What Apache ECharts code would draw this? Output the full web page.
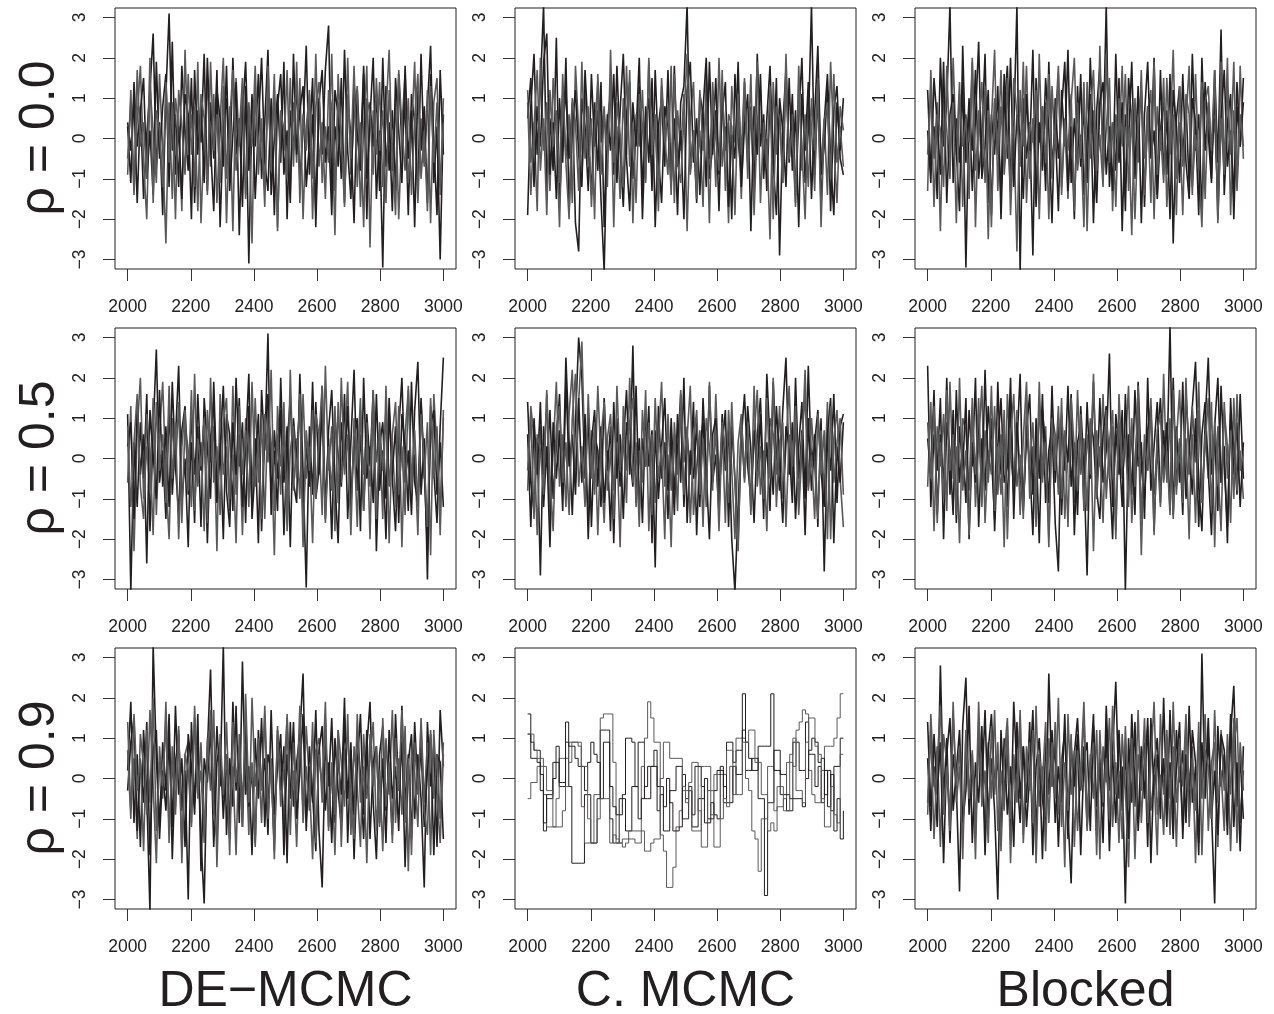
<!DOCTYPE html>
<html><head><meta charset="utf-8">
<script src="https://cdn.jsdelivr.net/npm/echarts@6/dist/echarts.min.js"></script>
<style>html,body{margin:0;padding:0;background:#fff}#c{width:1274px;height:1014px}</style>
</head><body><div id="c"></div><script>
const rowLabels = ['ρ = 0.0', 'ρ = 0.5', 'ρ = 0.9'];
const colLabels = ['DE−MCMC', 'C. MCMC', 'Blocked'];
const xTicks = [2000, 2200, 2400, 2600, 2800, 3000];
const yTicks = [-3, -2, -1, 0, 1, 2, 3];

// rho = 0.0
const DE_r00 = [
[0.3,-1.1,1.4,-0.2,0.8,-1.5,0.1,1.2,2.6,-0.7,0.4,-1.9,1.1,3.1,-0.3,0.6,-1.2,1.8,0.2,-0.8,
1.5,-1.6,0.7,-0.1,2.1,-1.3,0.9,-0.5,1.7,-2.2,0.3,1.0,-0.9,2.0,-0.4,0.5,-1.7,1.3,-3.1,0.8,
-0.2,1.6,-1.0,0.4,2.2,-1.4,0.0,1.1,-0.6,1.9,-2.0,0.7,-0.3,1.4,-1.1,0.2,2.3,-0.9,0.6,-1.8,
1.0,-0.4,1.7,2.8,-1.2,0.3,-0.7,1.5,-1.6,0.9,0.1,-2.1,1.2,-0.5,1.8,-1.0,0.5,2.0,-1.5,0.2,
-3.2,1.3,-0.8,0.7,-1.3,1.6,-0.2,0.9,-1.9,1.1,0.4,-1.4,2.1,-0.6,0.8,2.3,-1.1,0.3,-3.0,0.6],
[-0.9,1.2,-1.4,0.5,1.8,-0.6,-2.0,1.3,0.2,-1.1,1.6,-0.3,-2.6,0.9,-1.5,1.0,0.3,-1.8,2.2,-0.4,
0.6,-1.2,1.9,-2.1,0.1,1.4,-0.7,1.1,-1.6,0.4,2.0,-1.0,0.8,-2.3,1.5,-0.2,1.0,-1.4,0.7,-2.6,
1.3,-0.5,0.2,-1.7,1.8,-0.8,1.2,-2.2,0.6,-0.3,1.7,-1.3,0.9,-0.6,1.5,-2.0,0.3,1.1,-1.0,2.1,
-0.7,0.4,-1.5,1.2,0.8,-2.4,1.6,-0.1,-1.1,2.0,-0.9,0.5,1.3,-1.7,0.2,1.8,-2.7,0.7,-0.4,1.4,
-1.2,0.6,2.2,-0.8,1.0,-2.0,0.3,1.6,-1.1,0.1,1.9,-1.6,0.5,-0.7,1.2,-2.1,0.9,1.5,-1.4,1.0],
[0.4,-0.3,1.0,-1.6,0.7,1.5,-1.0,0.2,-1.4,1.9,-0.5,0.8,1.6,-1.2,2.4,-0.9,0.3,-1.5,1.1,0.6,
-2.0,1.7,-0.4,0.9,-1.1,2.0,-0.2,-1.8,1.2,0.5,-0.7,1.8,-1.3,0.1,1.4,-2.4,0.6,1.9,-0.8,1.1,
-1.5,0.3,2.0,-0.6,-1.3,1.0,-1.9,0.8,1.6,-0.9,0.2,-1.6,2.1,-0.4,0.7,1.3,-1.2,-0.1,1.5,-2.2,
0.9,1.7,-0.6,0.3,-1.9,1.2,0.6,-1.0,2.2,-0.3,-1.5,1.4,0.1,-0.8,1.6,-2.0,0.9,-0.2,1.1,-1.3,
2.0,-0.7,0.4,-1.8,1.5,0.2,-1.1,1.8,-0.5,0.7,-2.2,1.3,-0.3,0.8,-1.6,1.6,-0.1,-1.9,1.7,-0.4],
[-0.5,0.9,-1.3,1.7,-0.2,0.4,-1.0,2.0,-1.6,0.7,0.2,-1.2,1.4,-0.6,0.9,-2.0,1.2,0.3,-0.9,1.6,
-0.4,0.8,-1.8,1.1,0.5,-1.4,1.9,-0.3,0.6,-1.1,1.3,-2.1,0.4,1.7,-0.8,0.1,1.5,-1.5,0.9,-0.2,
1.8,-0.9,0.5,-1.3,1.0,-0.4,1.6,-2.3,0.7,0.2,-1.0,1.5,-0.7,1.9,-1.6,0.6,-0.3,1.2,-2.0,0.8,
1.4,-1.1,0.3,-0.6,2.1,-1.3,0.9,0.1,-1.7,1.1,-0.5,1.8,-1.2,0.4,-2.2,1.0,0.6,-0.9,1.5,-0.3,
0.7,-1.6,1.2,-0.2,-1.9,1.7,0.3,-0.8,1.0,-1.4,0.5,1.6,-1.0,0.2,-1.8,1.3,-0.6,0.9,-1.2,0.4]
];
const CM_r00 = [
[-1.9,0.8,2.1,-0.4,1.3,3.3,-1.2,0.5,-0.8,2.5,-1.6,0.2,1.2,-0.5,0.9,-2.1,-2.8,1.0,0.3,-1.3,
1.6,-0.2,0.7,-1.5,-3.3,0.4,1.1,-0.9,1.8,-0.3,-1.7,0.6,1.4,-1.0,0.1,2.0,-1.4,0.8,-0.6,1.5,
-2.2,0.3,1.0,-0.7,1.7,-1.1,0.5,-1.9,0.9,1.3,3.3,-0.8,0.2,-1.6,1.1,0.6,-1.2,1.9,-0.4,0.7,
-1.8,1.2,-0.3,0.4,-2.0,1.6,0.0,-1.0,1.4,-0.5,0.8,-1.5,2.1,-0.2,0.6,-1.3,1.0,-0.8,1.5,-2.9,
0.3,1.7,-0.6,1.1,-1.4,0.5,2.0,-1.1,0.2,3.3,-0.9,1.2,-1.7,0.4,1.6,-0.5,-1.9,0.9,-0.3,1.0],
[1.2,-0.6,0.4,-1.8,2.0,-0.3,0.9,-1.3,1.5,0.1,-2.2,1.1,-0.5,0.6,-1.6,1.8,0.2,-1.0,1.3,-0.7,
0.5,-2.0,1.6,-0.1,0.8,-1.2,2.2,-0.6,0.3,-1.5,1.0,-0.4,1.7,-2.1,0.6,-0.2,1.2,-1.1,1.9,-0.8,
0.4,-1.4,1.5,0.0,-0.9,1.8,-1.6,0.7,-0.3,1.1,-2.3,0.5,1.4,-1.0,0.2,-1.7,1.6,-0.5,0.9,-1.2,
2.0,-0.7,0.3,-2.1,1.3,-0.1,0.7,-1.5,1.0,-0.6,1.6,-1.9,0.4,1.2,-0.8,0.0,-2.5,1.4,-0.4,0.8,
-1.1,2.1,-0.5,0.6,-1.6,1.3,-0.2,-2.0,1.0,0.3,-1.3,1.7,-0.7,0.5,-1.4,1.9,-0.1,-1.6,0.8,0.2],
[0.5,1.5,-1.2,0.8,-0.2,1.9,2.6,-0.9,0.4,-1.5,1.0,-0.6,2.0,-1.8,0.3,1.2,-0.4,-1.2,1.7,0.1,
-1.4,0.9,-0.8,1.4,-2.2,0.6,-0.3,1.6,-1.1,0.7,2.1,-0.5,-1.8,0.9,-0.2,1.3,-2.0,0.4,1.0,-1.3,
1.7,-0.4,-1.6,0.8,0.3,-1.2,1.8,-0.7,0.2,-2.0,1.2,1.9,-0.6,0.5,-1.4,0.7,2.0,-1.0,-0.2,1.5,
-0.9,0.6,1.4,-1.7,0.1,-0.5,1.9,-1.2,0.3,1.1,-2.3,0.8,-0.4,1.6,-1.0,0.5,1.8,-0.6,-1.9,1.0,
0.2,-1.2,1.5,-0.8,0.7,-2.2,1.1,-0.3,1.4,-1.5,0.6,2.3,-0.9,-0.2,1.2,-1.8,0.7,1.3,-0.5,-0.9],
[0.9,-1.4,0.3,1.7,-0.8,0.5,-1.9,1.2,-0.2,0.7,-1.1,1.6,-0.6,-2.0,1.0,0.4,-1.3,1.9,-0.5,0.8,
-1.7,0.2,1.4,-0.9,0.6,-0.3,1.5,-2.2,0.9,0.1,-1.2,1.8,-0.7,0.4,-1.6,1.1,0.3,-1.0,2.0,-0.4,
0.6,-1.8,1.3,-0.1,0.8,-1.4,1.6,-0.6,-1.1,0.5,2.1,-0.9,0.2,-1.5,1.2,-0.3,0.9,-2.1,1.4,0.0,
-0.8,1.7,-1.3,0.6,0.3,-1.9,1.1,-0.4,1.5,-1.0,0.7,-0.2,1.9,-1.6,0.4,-0.7,1.3,-2.0,0.8,0.5,
-1.1,1.4,-0.5,0.2,-1.7,1.8,-0.8,0.6,-1.2,1.0,-0.3,1.5,-2.2,0.4,0.9,-1.0,1.6,-0.6,0.3,-0.7]
];
const BL_r00 = [
[1.2,-0.8,0.3,-1.5,2.0,-0.2,0.9,3.3,-1.1,0.5,-0.6,1.4,-3.2,0.8,-0.3,1.7,-1.0,0.1,2.1,-1.6,
0.6,-0.4,1.3,-2.0,0.7,1.8,-0.9,0.2,3.3,-3.3,1.0,-0.5,0.4,-2.9,1.5,-0.1,0.8,-1.3,1.9,-0.7,
0.3,-1.8,1.2,-0.2,2.2,-1.1,0.5,-0.6,1.6,-1.4,0.0,1.1,-2.1,0.7,1.8,-0.3,3.3,-1.2,0.4,-0.8,
1.5,-2.3,0.6,-0.1,1.9,-1.0,0.3,1.2,-1.7,0.8,-0.4,2.0,-1.5,0.2,1.0,-0.9,1.6,-2.6,0.5,1.3,
-0.5,0.9,-1.2,2.1,-0.3,0.6,-1.9,1.4,0.1,-1.1,1.7,-0.6,2.7,-1.4,0.4,1.1,-2.0,0.8,-0.2,1.5],
[-1.3,1.7,-0.5,0.9,-2.3,1.1,0.2,-1.0,2.0,-0.4,1.4,-1.7,0.6,-0.1,1.9,-2.2,0.7,-0.8,1.3,-2.5,
0.4,2.2,-1.3,0.8,-0.6,1.5,-1.9,0.3,-2.8,1.2,-0.2,1.8,-1.0,0.5,-1.6,2.1,-0.7,0.9,-2.0,1.3,
-0.3,1.6,-1.2,0.4,-1.5,0.9,2.0,-0.8,0.1,-2.2,1.4,-0.5,0.7,-1.3,2.3,-0.9,0.2,1.5,-1.8,0.6,
-0.2,1.8,-1.1,0.3,-2.4,1.0,-0.6,1.7,-1.4,0.5,1.2,-2.0,0.8,-0.3,1.5,-1.7,0.0,2.2,-1.0,0.4,
-1.9,1.1,0.6,-1.4,1.6,-0.7,-2.2,0.9,1.3,-0.4,0.5,-1.6,1.9,-0.8,2.0,-1.9,0.7,-1.2,1.8,-0.5],
[0.2,-1.1,1.5,0.4,-0.9,1.9,-1.6,0.6,1.1,-0.3,-1.8,2.3,-0.6,1.0,-1.3,0.5,2.4,-1.0,-0.2,1.2,
-1.9,0.9,0.3,-1.4,1.6,-0.5,2.0,-1.2,0.6,0.1,-1.5,1.1,-0.3,2.2,-1.7,0.4,-0.8,1.5,0.2,-2.1,
1.0,-0.5,0.7,1.9,-1.3,0.3,-2.0,1.3,-0.7,0.8,-1.1,2.0,-0.2,-1.6,0.9,1.4,-0.9,0.3,-1.3,2.1,
-0.6,0.9,-1.8,1.5,0.4,-0.8,1.3,-2.1,0.6,1.9,-0.5,0.2,-1.4,1.7,-0.9,0.7,-2.0,1.2,0.3,-1.1,
1.6,-0.6,-1.5,1.0,0.4,-1.9,2.0,-0.3,0.8,-1.0,1.3,-2.0,0.5,1.7,-0.7,0.2,-1.5,1.4,-0.2,0.9],
[-0.4,1.3,-1.7,0.6,0.2,-1.2,1.8,-0.5,0.9,-2.1,1.1,-0.2,0.5,-1.5,2.0,-0.8,0.3,1.4,-1.1,0.7,
-2.2,1.0,-0.4,1.7,-0.9,0.2,-1.3,1.5,0.6,-0.7,1.9,-1.6,0.4,-0.1,1.2,-2.0,0.8,-0.6,1.6,-1.0,
0.3,1.8,-1.4,0.5,-0.3,1.1,-1.8,0.9,-0.5,1.4,-2.3,0.6,1.7,-0.8,0.1,-1.2,2.1,-0.6,0.4,-1.7,
1.0,-0.2,1.6,-1.3,0.7,-2.0,0.3,1.2,-0.5,0.8,-1.6,1.9,-0.9,0.2,-1.1,1.5,-0.4,0.6,-1.9,1.3,
-0.7,0.4,1.8,-1.2,0.1,-0.8,1.4,-1.5,0.9,-0.3,1.7,-2.1,0.5,-0.9,1.2,-0.4,1.9,-1.3,0.6,-0.2]
];

// rho = 0.5
const DE_r05 = [
[1.1,-3.3,0.4,-1.2,0.9,-0.5,1.6,-1.8,0.7,2.7,-0.6,0.2,-1.5,1.3,-0.9,0.5,2.3,-1.1,0.0,-2.2,
1.2,-0.4,0.8,-1.7,1.5,0.3,-1.0,1.9,-0.7,0.4,-2.0,1.1,0.6,-1.3,2.0,-0.2,0.9,-1.6,1.3,-0.8,
0.5,-2.1,1.7,0.2,3.1,-1.4,0.7,-0.5,1.2,-1.9,0.3,1.5,-0.6,-1.1,2.1,-0.3,-3.2,0.8,-0.9,1.4,
-0.4,1.8,-1.2,0.5,-2.0,1.0,0.1,-0.7,1.6,-1.5,0.4,2.2,-0.8,0.6,-1.3,1.1,-0.2,1.7,-2.3,0.3,
0.9,-1.0,1.5,-0.5,-1.8,0.7,2.0,-0.6,0.2,-1.4,1.2,2.4,-0.9,0.5,-3.0,1.3,-0.3,-1.6,0.8,2.5],
[-0.6,1.3,-2.3,0.7,2.0,-1.0,0.3,-0.8,1.5,-1.4,0.6,1.9,-0.5,-2.0,1.0,-0.3,1.4,-1.6,0.9,0.2,
-1.2,2.1,-0.7,0.4,-1.8,1.2,-0.1,0.8,-2.3,1.6,-0.4,0.3,-1.3,1.8,-0.9,0.6,-1.9,1.0,0.2,-1.1,
1.5,-0.6,0.9,-1.5,1.2,0.4,-2.4,1.3,-0.2,0.7,-1.6,2.2,-0.8,0.5,-1.0,1.6,-0.5,0.3,-2.1,1.1,
0.6,-1.4,2.3,-0.3,0.8,-1.8,1.4,-0.6,0.2,1.9,-1.1,0.5,-1.7,1.2,-0.4,0.9,-2.0,1.5,-0.1,0.7,
-1.5,1.8,-0.7,0.4,-1.2,1.3,-2.2,0.6,1.7,-0.8,0.1,-1.9,1.4,-0.5,0.9,-2.4,1.6,0.2,-1.3,1.0],
[0.3,0.9,-1.5,1.4,-0.4,0.6,-2.6,1.2,0.1,-1.0,1.7,-0.7,0.8,-1.2,1.9,-0.2,-1.4,0.7,1.3,-0.9,
0.4,-1.6,1.6,-0.3,1.0,-2.1,0.5,1.4,-1.1,0.2,1.8,-0.8,-1.7,0.9,-0.4,1.5,-1.2,0.3,2.1,-1.5,
-0.2,1.1,-1.8,0.6,1.6,-0.9,0.2,-1.3,2.0,-0.6,0.8,-2.2,1.0,-0.1,1.5,-1.6,0.4,-0.7,1.9,-1.0,
-0.3,1.2,-1.5,0.7,1.7,-0.6,-2.1,0.9,-0.2,1.3,-1.2,0.5,1.0,-1.8,2.0,-0.5,0.3,-1.1,1.6,-0.8,
0.2,-2.0,1.2,-0.4,0.8,-1.6,1.1,0.3,-1.3,1.9,-0.6,-1.1,1.5,-0.3,-2.3,0.8,1.2,-0.9,0.4,-1.2],
[0.8,-1.2,0.4,1.6,-0.7,-1.5,1.1,0.2,-1.9,1.4,-0.3,0.6,-1.1,1.8,-0.5,0.9,-2.0,0.3,1.2,-0.8,
1.7,-1.3,0.5,-0.2,1.0,-1.6,2.0,-0.6,0.3,-1.4,0.9,1.5,-1.0,0.1,-2.1,1.3,-0.4,0.7,-1.2,1.9,
-0.7,0.4,-1.5,1.1,-0.1,2.2,-1.3,0.6,-0.9,1.4,-1.8,0.2,0.8,-0.5,1.6,-2.2,0.7,-0.3,1.2,-1.0,
0.5,1.8,-1.6,0.3,-0.8,1.3,-1.1,2.0,-0.4,0.6,-1.9,1.0,-0.2,1.5,-1.3,0.4,-0.7,1.7,-1.5,0.9,
-0.3,1.2,-2.1,0.6,1.4,-0.9,0.3,-1.4,1.8,-0.6,0.7,-1.2,1.1,-0.1,-1.7,1.5,-0.5,0.8,-1.9,1.2]
];
const CM_r05 = [
[1.4,-0.6,-1.3,0.5,-2.9,0.8,-0.2,1.2,-1.0,0.3,1.6,-0.9,2.5,0.4,-1.4,0.9,3.0,2.0,-0.5,1.1,
-1.7,0.6,0.2,-1.2,1.5,-0.3,0.8,-2.1,1.0,-0.7,0.3,1.7,-0.4,2.8,-1.1,0.5,-1.6,1.2,-0.2,0.7,
-2.7,1.3,-0.5,0.4,-1.5,1.0,-0.8,0.2,1.6,-1.2,0.6,-0.4,1.4,-1.9,0.3,0.9,-1.0,1.8,-0.6,0.1,
-1.4,1.1,-0.3,0.7,-2.0,-3.3,-1.2,0.8,-0.5,1.3,0.2,-1.6,0.6,1.5,-0.7,0.4,-1.3,1.9,0.1,-0.8,
1.2,2.5,-0.4,0.9,-1.5,0.3,1.4,-1.0,2.3,-0.2,0.6,-1.7,1.0,-2.8,0.5,-0.3,1.6,-1.1,0.8,1.1],
[-0.8,1.3,0.5,-1.9,0.8,-0.4,1.6,-1.5,0.2,1.9,-0.7,0.6,-1.2,1.1,2.2,-0.6,1.4,2.9,-0.2,-1.3,
0.7,-0.9,1.8,-0.1,-1.6,0.5,1.1,-0.8,0.4,-2.2,1.3,-0.3,0.9,1.5,-1.2,0.2,-0.6,1.7,-1.8,0.6,
-1.1,0.4,1.9,-0.7,0.1,-2.2,0.9,-0.4,1.2,-0.9,0.5,1.8,-1.4,-0.2,0.7,-1.7,1.0,0.3,-0.8,1.6,
-0.5,0.8,-1.6,1.2,-0.3,-2.0,0.4,1.1,-0.6,0.9,-1.3,0.5,1.7,-0.9,0.2,-1.8,1.0,0.6,-0.4,1.3,
-1.0,0.3,1.8,-0.6,0.9,-1.4,0.2,2.2,-0.7,1.0,-0.2,-1.5,0.7,-0.9,1.4,-2.0,0.5,1.2,-0.5,-1.7],
[0.6,-1.7,1.0,-0.4,1.4,-1.2,0.3,-2.2,0.9,-0.5,0.7,-1.3,1.9,-0.2,0.6,-0.9,1.5,-0.6,1.1,-2.0,
0.4,1.2,-0.7,0.8,-1.1,0.2,-1.8,1.4,-0.5,0.6,-1.5,0.9,0.1,-0.7,1.8,-1.3,0.5,-0.2,1.3,-2.1,
0.7,-1.0,0.3,1.5,-0.8,0.5,-1.4,1.1,-0.6,2.0,-1.6,0.2,-0.5,0.9,-1.2,1.5,-0.3,-2.0,0.6,1.0,
-0.9,0.3,1.2,-1.7,0.8,-0.5,-2.1,0.5,1.6,-0.2,-1.0,0.7,-0.4,1.1,-1.5,2.1,0.4,-0.9,1.3,-0.1,
-1.6,0.8,0.3,-1.1,2.0,-0.5,0.7,-1.9,1.0,-0.8,0.4,1.2,-0.3,-1.2,0.6,1.5,-2.1,0.3,-0.6,0.9],
[-0.3,1.1,-1.5,0.6,0.2,-0.9,1.7,-0.4,-1.8,0.8,1.3,-0.6,0.4,-1.4,1.0,2.1,-0.7,0.3,-1.2,1.6,
-0.5,0.9,-1.9,0.5,1.4,-0.8,0.2,-1.5,1.8,-0.3,0.7,-1.1,2.0,-0.6,0.4,-1.7,1.2,-0.2,0.9,-1.4,
1.5,-0.5,0.3,-2.0,1.1,-0.8,0.6,-1.3,1.7,-0.1,0.8,-1.6,0.4,1.2,-0.9,0.5,-1.2,1.9,-0.4,0.7,
-1.8,0.9,0.2,-1.1,1.4,-0.6,-2.3,1.0,-0.3,0.6,-1.4,1.8,-0.7,0.3,-1.0,1.5,-0.5,2.0,-1.2,0.4,
0.9,-1.7,0.6,-0.2,1.3,-1.1,0.5,1.6,-0.8,0.1,-1.5,1.1,-0.4,0.7,-2.0,1.3,-0.6,0.4,1.0,-0.9]
];
const BL_r05 = [
[2.3,-1.2,0.6,-0.3,1.5,-2.0,0.9,0.2,-1.4,1.7,-0.6,0.4,-1.1,1.2,-0.2,2.0,-1.7,0.5,-0.8,1.3,
0.1,-1.5,1.9,-0.4,0.7,-1.2,1.4,-0.9,0.3,2.1,-1.3,0.6,-0.1,-1.9,1.0,-0.5,1.6,-1.1,0.2,0.8,
-1.6,-2.8,1.1,-0.3,1.8,-0.7,0.4,-1.4,1.3,-0.2,-2.9,0.9,0.5,-1.0,1.5,-0.6,0.2,2.6,-1.2,0.7,
-0.4,1.2,-3.3,0.6,-0.9,1.7,-0.2,0.4,-1.5,2.0,-0.8,0.3,1.4,-1.1,0.7,-0.3,3.3,-1.4,0.8,-0.6,
1.9,-1.0,0.2,1.3,2.4,-0.7,-1.8,0.9,2.5,-0.4,0.6,-1.3,1.8,-0.2,-1.7,1.1,0.4,-0.9,1.6,-0.5],
[-0.7,1.4,-1.8,0.8,-0.2,1.1,-1.3,1.9,-0.5,0.3,-2.1,1.0,0.7,-0.8,1.5,-1.2,0.4,1.8,-1.6,0.2,
-0.4,1.3,-0.9,0.6,-2.2,1.6,0.1,-0.7,1.2,-1.4,0.5,1.9,-1.0,0.3,-1.7,1.4,-0.3,0.8,-2.0,1.1,
0.6,-0.9,1.5,-1.5,0.2,0.9,-1.1,1.7,-0.4,0.5,-1.3,1.0,-2.3,0.7,-0.2,1.6,-1.0,0.4,1.2,-1.8,
0.9,-0.5,0.3,1.8,-1.6,0.0,1.1,-2.4,0.6,-0.3,1.5,-0.9,0.2,-1.2,2.1,-0.6,1.0,-1.5,0.4,1.7,
-0.8,0.5,-2.0,1.3,-0.1,1.9,-1.1,0.6,-0.5,1.4,-2.2,0.8,-0.6,1.2,0.3,-1.6,1.5,-0.8,0.2,-1.0],
[0.5,-0.4,1.7,-1.4,0.6,-0.7,2.0,-0.9,1.2,-1.6,0.8,-0.3,1.5,-2.0,0.4,-0.6,1.1,-1.0,2.2,-0.5,
1.0,-1.8,0.3,1.5,-0.6,-0.2,2.0,-1.5,0.9,-0.4,-1.2,0.7,1.6,-0.9,0.5,-2.1,1.2,0.3,-1.1,1.8,
-0.6,1.0,-1.4,0.6,-0.1,1.6,-1.9,0.4,0.8,-1.1,1.4,-0.5,1.9,-0.8,-1.5,0.6,1.3,-0.3,-2.0,1.1,
0.3,-1.2,1.6,-0.7,0.8,-1.4,1.9,-0.2,-1.0,0.7,1.3,-1.8,0.5,1.5,-0.4,0.9,-1.3,2.0,-0.7,0.4,
-1.4,1.6,0.2,-0.9,1.0,-1.7,0.6,1.4,-0.3,-1.9,0.8,2.0,-0.6,0.3,-2.1,1.5,-0.4,0.9,-1.2,0.4],
[0.9,-0.5,1.3,-1.6,0.4,-1.0,1.7,-0.3,0.6,-1.4,2.0,-0.8,0.2,-1.9,1.1,-0.4,1.5,-1.2,0.7,-0.6,
1.8,-1.3,0.3,-0.9,1.2,-2.0,0.5,1.6,-0.7,0.1,-1.5,1.4,-0.2,0.9,-1.1,1.9,-0.6,0.4,-2.2,1.0,
-0.3,1.3,-1.0,0.7,-1.7,1.5,0.2,-0.8,1.1,-1.3,0.6,-0.4,2.1,-1.0,0.3,-1.6,1.2,-0.5,0.8,-2.0,
1.6,-0.2,0.5,-1.2,1.0,-0.7,1.8,-1.5,0.4,-0.3,1.3,-1.9,0.7,1.1,-0.6,0.2,-1.4,1.7,-0.9,0.5,
-1.1,2.0,-0.4,0.6,-1.6,1.2,-0.8,0.3,1.5,-1.3,0.9,-0.2,-1.8,1.4,-0.5,0.7,-1.0,1.6,-0.3,0.1]
];

// rho = 0.9
const DE_r09 = [
[0.2,1.9,-1.1,0.6,-1.7,1.2,-0.4,-3.3,3.3,0.5,-1.2,0.9,-0.3,1.6,-2.0,0.4,1.1,-0.8,0.2,-3.0,
1.4,-0.6,0.8,-1.5,-3.1,0.7,2.7,-0.9,1.3,-0.2,3.3,-1.4,0.5,-0.7,1.8,-1.1,2.9,-0.4,0.3,-1.9,
1.0,-0.5,1.5,-1.2,0.6,0.2,-1.6,1.2,-0.3,0.8,-2.1,1.4,-0.7,0.4,1.1,2.6,-1.0,0.3,-0.6,1.7,
-1.3,-2.7,0.9,-0.2,1.5,-1.1,0.5,-0.4,2.0,-1.6,0.7,-0.9,1.2,0.1,-1.5,0.8,1.9,-0.6,-2.0,0.6,
1.3,-0.8,0.2,-1.4,1.6,-0.3,0.9,-2.2,0.4,1.1,-1.0,0.6,-0.5,-2.7,1.4,-0.2,0.8,-1.7,1.7,0.3],
[1.4,-0.8,0.5,-1.5,1.1,0.3,-0.9,1.7,-0.2,-2.1,0.8,-0.5,1.9,-1.3,0.4,-0.7,1.2,-1.8,0.6,0.9,
-1.2,1.5,-0.4,0.2,-1.6,1.0,-0.3,1.7,-2.2,0.6,-0.5,1.4,-1.0,0.3,-1.9,1.1,-0.6,0.8,-1.4,2.0,
-0.2,0.6,-1.1,1.8,-0.7,0.4,-1.8,1.0,0.5,-1.3,1.6,-0.4,0.2,-1.7,0.9,-0.8,1.3,-0.1,-2.0,0.7,
1.0,-0.6,1.5,-1.2,0.3,-1.9,1.2,0.4,-0.7,1.6,-1.4,0.8,-0.2,-1.7,1.1,-0.5,0.5,1.4,-1.3,0.2,
-1.8,1.0,-0.4,1.7,-1.1,0.5,-0.9,1.3,-2.3,0.7,0.1,-1.2,1.5,-0.6,0.9,-1.9,1.2,-0.4,-1.6,0.6],
[-0.3,0.9,1.5,-1.3,0.4,-0.6,1.4,-1.9,0.7,1.2,-1.5,0.2,-0.8,1.0,-1.2,1.8,-0.4,0.5,-1.7,1.1,
0.3,-0.9,1.6,-2.3,0.5,-0.1,1.3,-1.7,0.4,0.9,-1.0,0.6,-1.5,1.9,-0.3,0.7,-1.2,1.5,-0.7,0.2,
-1.6,1.2,-0.2,0.5,-1.4,1.7,-0.9,0.3,1.1,-1.9,0.6,-0.5,1.4,-1.0,0.2,1.6,-1.3,0.8,-0.4,-1.8,
0.7,1.3,-0.8,0.4,-1.6,1.0,-0.3,-1.2,1.5,-0.5,0.9,-2.0,0.3,1.6,-0.9,1.2,-1.5,0.4,0.8,-1.1,
0.5,-1.6,1.2,-0.5,0.3,-1.3,1.8,-0.7,0.6,-1.5,1.4,-0.3,0.8,-1.2,0.2,1.1,-1.9,0.6,0.4,-1.5],
[0.7,-1.0,1.6,-0.3,0.5,-1.8,1.2,-0.6,2.0,-1.3,0.4,-0.2,1.5,-1.6,0.8,-0.9,1.3,-2.1,0.6,0.2,
-1.1,1.8,-0.5,0.9,-1.4,0.3,1.7,-0.8,-1.5,1.1,-0.4,0.6,-1.9,1.4,-0.1,0.8,-1.2,2.1,-0.6,0.4,
-1.7,1.0,-0.3,1.6,-1.0,0.5,-2.0,1.3,-0.7,0.2,1.5,-1.4,0.9,-0.5,1.8,-1.1,0.3,-0.8,1.4,-1.6,
0.6,-0.2,1.9,-1.3,0.4,-0.9,1.2,-1.7,0.7,1.0,-0.4,-1.5,1.6,-0.6,0.3,-2.1,1.1,-0.2,0.8,-1.2,
1.5,-0.7,0.4,-1.6,1.0,-0.3,1.7,-1.1,0.5,-1.9,0.9,-0.4,1.3,-0.8,-1.4,1.2,-0.5,0.6,-1.0,0.9]
];
// C. MCMC at rho = 0.9: four slowly mixing chains, one value every 10 iterations
const CM_r09 = [
[1.6,0.9,0.7,0.7,-0.3,-1.3,-0.5,-0.5,0.4,0.4,
-0.2,-0.2,1.4,-0.2,-2.1,-2.1,-2.1,-2.1,-0.4,-0.4,
-1.6,-1.6,-0.5,1.2,1.2,1.2,-1.0,-1.6,-1.6,-0.5,
-0.5,-1.3,-1.3,-0.2,-0.2,0.9,0.9,-0.5,-0.5,0.3,
0.3,-0.8,-0.4,-1.3,-1.3,-0.3,-0.3,0.3,0.3,-1.0,
-1.0,-0.2,-1.2,-1.2,-0.5,-0.5,0.0,-1.0,-1.0,-0.3,
0.2,0.2,-0.6,0.9,0.9,0.4,0.7,0.7,2.1,0.2,
0.2,0.5,0.5,-0.5,-0.5,-2.9,-0.6,-0.6,0.7,0.7,
0.1,0.1,-0.8,-0.8,0.9,0.9,0.2,0.2,1.4,0.6,
0.6,-0.2,0.3,-0.6,0.2,-0.7,0.1,-1.3,-0.5,-1.5,-0.8],
[-0.5,-0.1,-0.1,0.3,0.3,-0.4,-1.2,-1.2,-1.2,-0.5,
0.5,0.5,0.5,0.9,0.9,0.9,0.8,-0.7,-1.6,-1.6,
-1.6,-0.4,-0.4,1.5,1.6,1.6,1.6,0.4,-1.6,-1.6,
-1.5,-1.5,-1.5,-1.5,-1.6,-1.6,0.3,1.0,1.9,1.5,
0.9,0.9,-1.4,-1.8,-2.7,-2.7,-2.2,-1.2,-0.8,-0.3,
-0.3,-0.1,0.4,0.4,-0.8,-1.7,-1.7,-0.3,-0.3,0.1,
0.1,0.1,0.1,0.7,0.7,-0.4,1.0,1.0,1.0,0.0,
-0.3,-1.3,-1.5,-2.3,-1.0,-1.0,0.3,0.3,-0.8,-0.7,
-0.7,-0.5,0.4,0.4,0.3,1.2,1.4,1.7,1.6,0.2,
-0.4,-0.6,-0.6,0.2,0.8,0.8,0.8,1.0,1.5,2.1,2.1],
[1.1,0.5,0.5,0.4,0.1,-1.1,-0.4,-0.4,0.0,0.8,
-0.1,-0.1,0.9,0.8,0.8,0.5,0.3,0.3,-0.3,0.4,
0.9,0.6,0.4,-0.5,0.9,0.9,-0.2,-0.7,-0.9,-0.9,
-0.4,1.0,1.0,0.9,-0.2,-1.0,-0.5,-0.2,0.3,0.3,
0.7,-0.2,-0.2,-0.7,0.0,-0.6,-1.3,-1.3,-1.2,0.1,
-0.5,-0.3,-0.9,0.3,0.3,-0.2,-1.1,-1.1,-0.6,-0.9,
-1.0,0.3,-0.2,-0.6,-0.6,0.3,0.1,0.1,1.2,0.9,
0.5,0.2,0.2,0.8,0.8,0.8,0.8,2.1,0.2,0.2,
-0.4,-0.4,-0.4,-0.5,-0.5,-0.5,-0.5,-0.7,0.0,0.7,
1.0,0.9,0.4,0.5,-0.4,0.2,-0.8,0.3,0.3,1.0,1.0],
[1.1,1.1,0.7,0.5,0.5,0.3,-0.3,-0.3,-1.2,-1.2,
-1.2,-0.8,-0.2,0.4,0.9,0.9,0.9,0.3,0.3,-1.0,
-1.6,-1.6,-1.0,-0.5,-0.5,-0.5,-1.6,-1.4,-1.5,-1.6,
-1.7,-1.6,-1.3,-1.3,-1.3,-1.3,-1.3,-1.8,-1.8,-1.6,
-1.5,-1.5,0.0,0.9,0.9,0.5,0.5,0.5,0.5,-0.2,
-0.6,-0.3,-1.3,-1.3,-1.3,0.3,0.3,0.3,-0.9,-1.7,
-1.7,-1.0,-0.5,-0.7,0.3,0.3,-0.4,-0.4,0.9,0.9,
1.2,1.2,0.4,0.4,-0.4,-0.4,-1.3,-1.1,-1.3,-0.2,
-0.2,-0.8,-0.8,0.6,1.0,-0.3,-0.3,-0.6,0.9,1.5,
1.5,0.8,0.6,-0.5,-1.2,-1.2,-0.2,-0.9,-1.1,0.6,0.6]
];
const BL_r09 = [
[1.4,-0.7,0.3,-1.2,2.8,-0.5,1.0,-1.6,0.6,-0.2,-2.8,1.3,2.5,-0.9,0.4,-1.4,1.1,-0.3,1.7,-1.0,
0.5,-0.8,-3.0,1.2,-0.4,0.7,-1.5,1.9,0.2,-1.1,0.8,-0.6,1.4,-1.9,0.3,1.0,-0.5,-1.3,2.6,-0.2,
0.9,-1.7,0.4,1.2,-0.9,-2.6,0.6,1.5,-0.3,0.8,-1.2,0.2,1.6,-1.4,0.5,-0.7,1.1,-1.8,0.7,2.4,
-0.5,0.3,-3.1,1.0,-0.6,1.4,-1.3,0.2,0.9,-1.7,1.5,-0.4,0.6,-1.0,2.0,-0.8,0.4,-1.5,1.2,-0.1,
0.7,-1.1,1.8,-0.6,0.3,-1.9,3.1,-0.5,1.0,-0.8,-3.1,1.3,-0.2,0.6,-1.4,1.1,2.3,-0.7,0.5,-1.0],
[-0.9,1.6,-0.2,0.8,-1.7,1.1,0.4,-1.0,1.9,-0.6,0.3,-1.5,1.2,-0.4,0.7,-2.0,1.4,0.1,-1.2,0.9,
-0.5,1.7,-1.3,0.2,-0.8,1.3,-2.1,0.6,-0.3,1.5,-1.6,0.4,0.9,-1.1,1.8,-0.7,0.3,-1.8,1.0,-0.2,
1.4,-0.9,0.5,-2.2,1.6,-0.4,0.7,-1.3,0.2,1.9,-1.0,0.6,-0.5,1.2,-2.0,0.8,-0.1,1.5,-1.2,0.4,
-1.6,1.1,-0.3,-2.2,0.9,-0.7,1.7,-1.1,0.5,1.3,-0.8,0.1,-1.9,1.6,-0.4,0.7,-1.4,1.9,-0.6,0.3,
-1.2,1.4,-0.2,0.8,-2.1,1.0,-0.5,1.6,-1.3,0.4,0.9,-1.7,1.2,-0.3,0.6,-1.8,0.8,1.5,-1.1,0.2],
[0.5,-1.3,1.1,-0.4,0.9,-2.1,0.6,1.5,-0.8,0.2,1.2,-1.1,-0.3,1.8,-1.6,0.4,-0.6,1.3,-1.9,0.7,
1.6,-0.2,0.5,-1.4,1.0,-0.9,0.3,-1.7,1.4,-0.5,0.8,-1.2,0.1,1.7,-1.4,0.6,-2.0,0.9,-0.4,1.2,
-1.1,0.3,-0.6,1.6,-1.5,0.8,-0.2,1.1,-1.9,0.5,0.9,-1.3,1.3,-0.7,0.4,-1.6,1.8,-0.3,0.6,-1.1,
1.2,-0.8,0.7,-1.5,1.6,-0.2,-1.1,0.8,-0.5,1.5,-2.1,0.3,1.0,-0.6,0.5,-1.2,1.7,-0.9,0.2,1.4,
-1.5,0.6,-0.7,1.2,0.4,-1.6,0.9,-0.3,1.5,-1.0,0.2,-1.4,1.1,0.7,-0.9,1.6,-1.2,0.4,-1.8,0.8],
[-0.6,1.2,-1.5,0.4,1.8,-0.9,0.3,-1.3,1.6,-0.2,0.8,-2.0,1.1,-0.5,0.6,-1.2,1.9,-0.7,0.2,-1.6,
1.3,-0.4,0.9,-1.8,0.5,1.5,-1.0,0.3,-0.6,1.7,-1.4,0.8,-0.3,1.2,-2.1,0.6,-0.1,1.4,-1.1,0.9,
-0.5,2.0,-1.2,0.4,-0.8,1.1,-1.7,0.7,-0.2,1.6,-1.3,0.3,0.9,-1.9,1.2,-0.6,0.5,-1.0,1.8,-0.4,
0.2,-1.5,1.3,-0.7,1.0,-2.0,0.6,-0.3,1.5,-1.1,0.4,1.9,-0.9,0.1,-1.4,1.2,-0.5,0.8,-1.7,1.0,
-0.2,1.6,-1.2,0.5,-0.8,1.4,-1.9,0.7,0.3,-1.0,1.7,-0.6,0.2,-1.3,1.1,-0.4,1.5,-1.6,0.9,-0.3]
];

const panels = [
  [DE_r00, CM_r00, BL_r00],
  [DE_r05, CM_r05, BL_r05],
  [DE_r09, CM_r09, BL_r09]
];
const BLACK = '#231f20', GREY = '#5a5a5a';
const FONT = '"Liberation Sans", Arial, Helvetica, sans-serif';
const fmt = v => String(v).replace('-', '\u2212');

const grid = [], xAxis = [], yAxis = [], series = [];
for (let r = 0; r < 3; r++) {
  for (let c = 0; c < 3; c++) {
    const k = r * 3 + c;
    grid.push({ left: 115 + 400 * c, top: 8 + 320 * r, width: 341, height: 261,
      show: true, borderColor: BLACK, borderWidth: 1, backgroundColor: 'transparent' });
    xAxis.push({ gridIndex: k, type: 'value', min: 1960, max: 3040,
      splitLine: { show: false },
      axisLine: { show: false, onZero: false },
      axisTick: { show: true, length: 12, customValues: xTicks, lineStyle: { color: '#333', width: 1 } },
      axisLabel: { customValues: xTicks, formatter: v => String(v), fontSize: 17.5, color: '#222', margin: 29, fontFamily: FONT } });
    yAxis.push({ gridIndex: k, type: 'value', min: -3.235, max: 3.235,
      splitLine: { show: false },
      axisLine: { show: false, onZero: false },
      axisTick: { show: true, length: 12, customValues: yTicks, lineStyle: { color: '#333', width: 1 } },
      axisLabel: { customValues: yTicks, formatter: fmt, rotate: 90, fontSize: 17.5, color: '#222', margin: 26, fontFamily: FONT } });
    const chains = panels[r][c];
    const isStep = (r === 2 && c === 1);
    chains.forEach((ch, j) => {
      series.push({
        type: 'line', xAxisIndex: k, yAxisIndex: k,
        data: ch.map((v, i) => [2000 + i * 1000 / (ch.length - 1), v]),
        symbol: 'none', showSymbol: false, silent: true, clip: true,
        step: isStep ? 'end' : false,
        lineStyle: { width: isStep ? 1 : 1.6, color: (j % 2 === 0) ? BLACK : GREY }
      });
    });
  }
}

const graphic = [];
rowLabels.forEach((t, r) => {
  graphic.push({ type: 'text', x: 40, y: 138 + 320 * r, rotation: Math.PI / 2,
    style: { text: t, fontSize: 50, fontFamily: FONT, fill: BLACK, align: 'center', verticalAlign: 'middle' } });
});
colLabels.forEach((t, c) => {
  graphic.push({ type: 'text', x: 285.5 + 400 * c, y: 992,
    style: { text: t, fontSize: 50, fontFamily: FONT, fill: BLACK, align: 'center', verticalAlign: 'middle' } });
});

const chart = echarts.init(document.getElementById('c'), null, { renderer: 'canvas' });
chart.setOption({ animation: false, backgroundColor: '#fff', grid, xAxis, yAxis, series, graphic });
</script></body></html>
